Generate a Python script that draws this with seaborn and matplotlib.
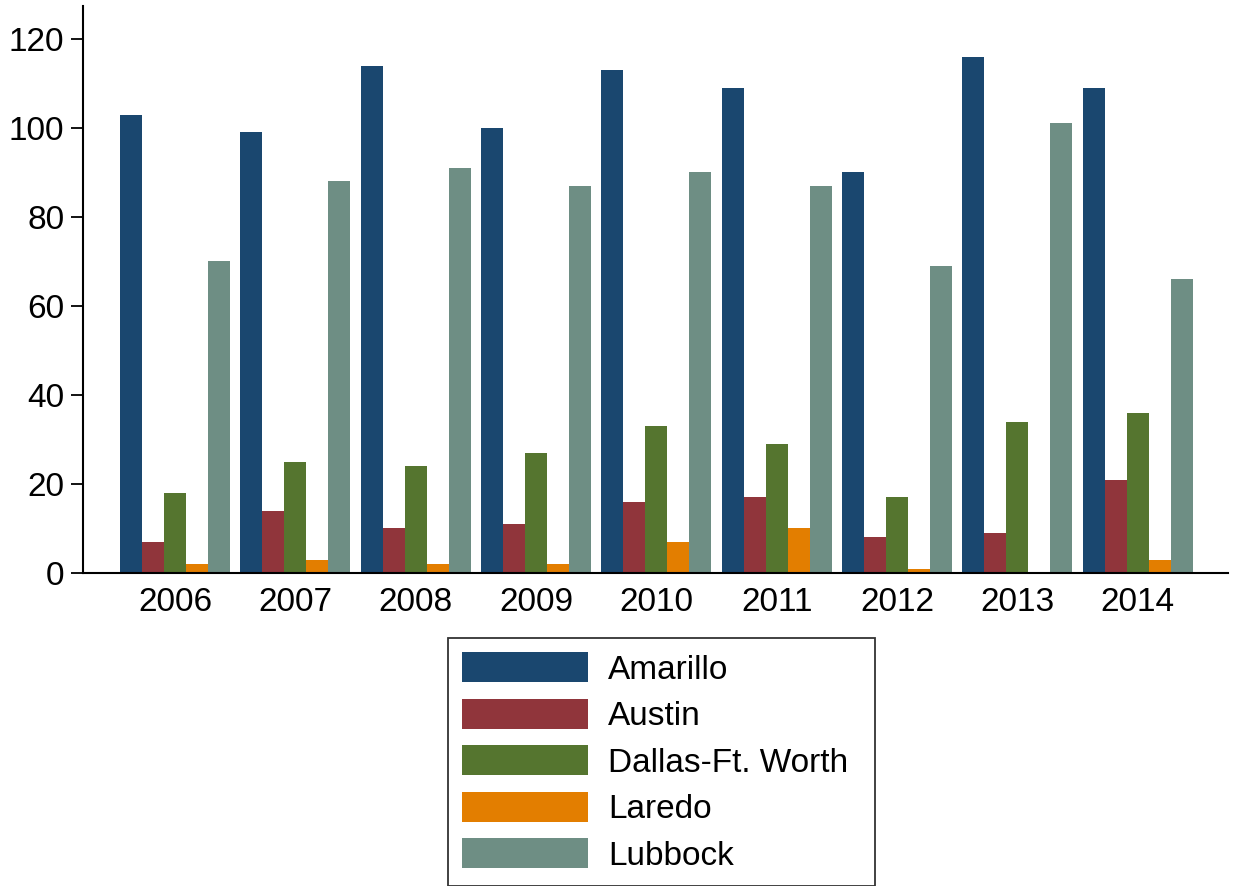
import matplotlib
matplotlib.use("Agg")
import matplotlib.pyplot as plt
import seaborn as sns
import pandas as pd

years = ["2006", "2007", "2008", "2009", "2010", "2011", "2012", "2013", "2014"]
cities = ["Amarillo", "Austin", "Dallas-Ft. Worth", "Laredo", "Lubbock"]
amarillo = [103, 99, 114, 100, 113, 109, 90, 116, 109]
austin = [7, 14, 10, 11, 16, 17, 8, 9, 21]
dallas = [18, 25, 24, 27, 33, 29, 17, 34, 36]
laredo = [2, 3, 2, 2, 7, 10, 1, 0, 3]
lubbock = [70, 88, 91, 87, 90, 87, 69, 101, 66]
colors = ["#1a476f", "#90353b", "#55752f", "#e37e00", "#6e8e84"]

series = [amarillo, austin, dallas, laredo, lubbock]
rows = []
for city, vals in zip(cities, series):
    for y, v in zip(years, vals):
        rows.append({"year": y, "city": city, "value": v})
df = pd.DataFrame(rows)

sns.set_style("white")
plt.rcParams["font.family"] = ["Liberation Sans", "DejaVu Sans"]
plt.rcParams["text.color"] = "black"
plt.rcParams["xtick.color"] = "black"
plt.rcParams["ytick.color"] = "black"
plt.rcParams["axes.labelcolor"] = "black"

W, H = 1241, 886
fig = plt.figure(figsize=(W / 100, H / 100), dpi=100)
ax = fig.add_axes([83 / W, 1 - 573 / H, (1228 - 83) / W, (573 - 6) / H])

sns.barplot(data=df, x="year", y="value", hue="city", hue_order=cities,
            order=years, palette=colors, saturation=1, width=0.915, gap=0,
            ax=ax, edgecolor="none", linewidth=0, legend=True, errorbar=None)

ax.set_xlim(-0.764, 8.75)
ax.set_ylim(0, 127.4)
ax.set_yticks([0, 20, 40, 60, 80, 100, 120])
ax.set_xlabel("")
ax.set_ylabel("")
for s in ["top", "right"]:
    ax.spines[s].set_visible(False)
for s in ["left", "bottom"]:
    ax.spines[s].set_color("black")
    ax.spines[s].set_linewidth(1.5)
ax.tick_params(axis="y", which="major", left=True, length=8.5, width=1.3,
               color="black", labelcolor="black", labelsize=24, pad=5)
ax.tick_params(axis="x", which="major", bottom=False, length=0,
               labelcolor="black", labelsize=24, pad=10)
ax.grid(False)

handles, labels = ax.get_legend_handles_labels()
ax.legend_.remove()
top = 1 - 638 / H
hgt = 0.3
leg = fig.legend(handles, labels, loc="upper left", mode="expand",
                 bbox_to_anchor=(448 / W, top - hgt, (875 - 448) / W, hgt),
                 borderaxespad=0,
                 fontsize=24, frameon=True, fancybox=False,
                 handlelength=3.78, handleheight=1.02, labelspacing=0.39,
                 handletextpad=0.6, borderpad=0.42, labelcolor="black")
leg.get_frame().set_edgecolor("black")
leg.get_frame().set_linewidth(1.3)

fig.savefig("out.png", dpi=100)
